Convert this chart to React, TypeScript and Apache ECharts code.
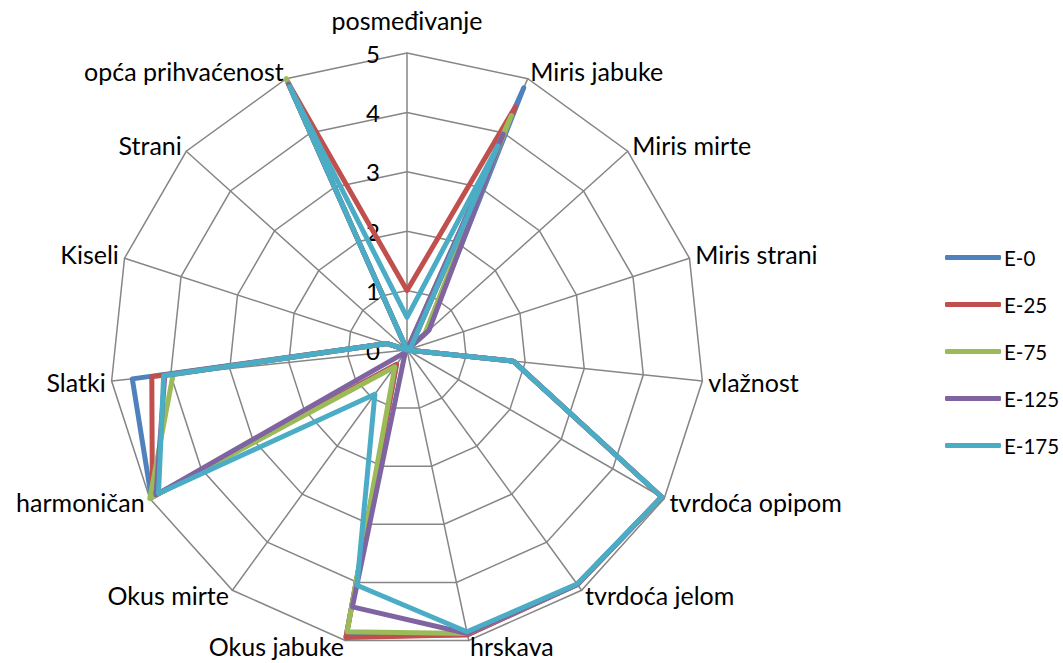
import React, { useEffect, useRef } from "react";
import * as echarts from "echarts";

const indicators = [
  "posmeđivanje",
  "Miris jabuke",
  "Miris mirte",
  "Miris strani",
  "vlažnost",
  "tvrdoća opipom",
  "tvrdoća jelom",
  "hrskava",
  "Okus jabuke",
  "Okus mirte",
  "harmoničan",
  "Slatki",
  "Kiseli",
  "Strani",
  "opća prihvaćenost",
];

const seriesNames = ["E-0", "E-25", "E-75", "E-125", "E-175"];

const e0 = [0, 4.83, 0.45, 0, 1.8, 4.95, 4.88, 4.9, 4.93, 0.3, 4.97, 4.65, 0.35, 0, 4.95];
const e25 = [1.0, 4.48, 0.1, 0, 1.8, 4.95, 4.88, 4.9, 4.95, 0.3, 4.95, 4.32, 0.35, 0, 4.95];
const e75 = [0, 4.32, 0.4, 0, 1.8, 4.95, 4.88, 4.88, 4.85, 0.35, 5.0, 3.96, 0.35, 0, 5.0];
const e125 = [0, 3.98, 0.5, 0, 1.8, 4.95, 4.88, 4.88, 4.42, 0.05, 4.88, 4.1, 0.35, 0, 4.9];
const e175 = [0.55, 3.76, 0.1, 0, 1.8, 4.95, 4.87, 4.85, 4.05, 0.92, 4.83, 4.12, 0.35, 0, 4.85];

const seriesValues = [e0, e25, e75, e125, e175];
const colors = ["#4F81BD", "#C0504D", "#9BBB59", "#8064A2", "#4BACC6"];

const FONT = "Lato, 'Open Sans', sans-serif";

// ECharts radar runs counter-clockwise; reorder so the axes run clockwise.
const order = [0, ...indicators.slice(1).map((_, i) => indicators.length - 1 - i)];

export default function App() {
  const ref = useRef<HTMLDivElement>(null);
  useEffect(() => {
    if (!ref.current) return;
    const chart = echarts.init(ref.current, null, { renderer: "svg" });
    chart.setOption({
      animation: false,
      color: colors,
      textStyle: { fontFamily: FONT },
      legend: {
        orient: "vertical",
        left: 940,
        top: 242,
        itemWidth: 56,
        itemHeight: 5,
        itemGap: 26,
        icon: "roundRect",
        textStyle: { fontSize: 20.5, color: "#000", fontFamily: FONT, padding: [0, 0, 0, -2] },
        data: seriesNames,
      },
      radar: {
        center: [407, 350],
        radius: 297,
        shape: "polygon",
        startAngle: 90,
        splitNumber: 5,
        axisName: {
          color: "#000",
          fontSize: 25,
          fontFamily: FONT,
          formatter: (name: string) => {
            const idx = indicators.indexOf(name);
            if (idx === 0) return `{t|${name}}\n{s9| }`;
            if (idx <= 3 || idx >= 12) return `{t|${name}}\n{s5| }`;
            return `{t|${name}}`;
          },
          rich: {
            t: { color: "#000", fontSize: 25, fontFamily: FONT },
            s9: { fontSize: 1, lineHeight: 9, height: 9 },
            s5: { fontSize: 1, lineHeight: 5, height: 5 },
          },
        },
        nameGap: 6,
        axisLine: { lineStyle: { color: "#868686", width: 1.5 } },
        splitLine: { lineStyle: { color: "#868686", width: 1.5 } },
        splitArea: { show: false },
        axisLabel: { show: false },
        axisTick: { show: false },
        indicator: order.map((k, i) =>
          i === 0
            ? {
                name: indicators[k],
                min: 0,
                max: 5,
                axisLabel: {
                  show: true,
                  color: "#000",
                  fontSize: 24,
                  fontFamily: FONT,
                  margin: 27,
                },
              }
            : { name: indicators[k], min: 0, max: 5 }
        ),
      },
      series: seriesNames.map((name, i) => ({
        type: "radar",
        name,
        symbol: "none",
        lineStyle: { width: 5, color: colors[i], join: "round", cap: "round" },
        itemStyle: { color: colors[i] },
        data: [{ value: order.map((k) => seriesValues[i][k]), name }],
      })),
    });
    return () => chart.dispose();
  }, []);
  return (
    <div
      ref={ref}
      style={{ position: "fixed", left: 0, top: 0, width: 1063, height: 663, background: "#fff" }}
    />
  );
}
